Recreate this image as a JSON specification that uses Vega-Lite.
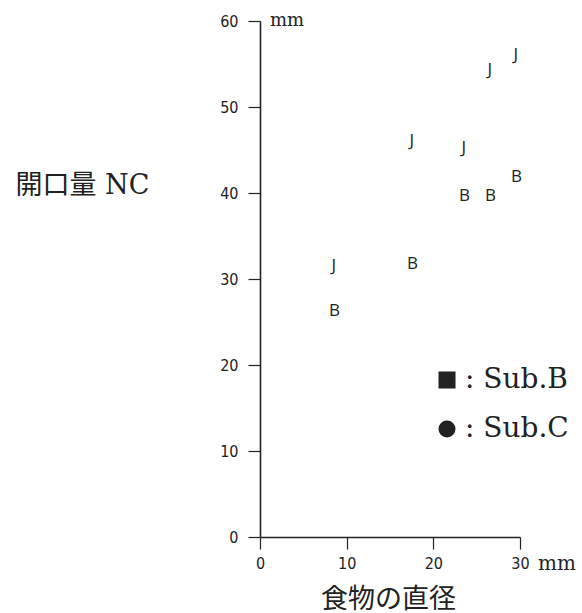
{
  "$schema": "https://vega.github.io/schema/vega-lite/v6.json",
  "width": 260,
  "height": 516,
  "autosize": "none",
  "padding": {"left": 260, "top": 21, "right": 62, "bottom": 76},
  "background": "white",
  "datasets": {
    "points": [
      {"diameter": 8.5, "opening": 31.5, "group": "Sub.C", "symbol": "J"},
      {"diameter": 17.5, "opening": 46.0, "group": "Sub.C", "symbol": "J"},
      {"diameter": 23.5, "opening": 45.2, "group": "Sub.C", "symbol": "J"},
      {"diameter": 26.5, "opening": 54.3, "group": "Sub.C", "symbol": "J"},
      {"diameter": 29.5, "opening": 56.0, "group": "Sub.C", "symbol": "J"},
      {"diameter": 8.6, "opening": 26.3, "group": "Sub.B", "symbol": "B"},
      {"diameter": 17.6, "opening": 31.8, "group": "Sub.B", "symbol": "B"},
      {"diameter": 23.6, "opening": 39.7, "group": "Sub.B", "symbol": "B"},
      {"diameter": 26.6, "opening": 39.7, "group": "Sub.B", "symbol": "B"},
      {"diameter": 29.6, "opening": 41.9, "group": "Sub.B", "symbol": "B"}
    ],
    "single": [{}]
  },
  "config": {
    "view": {"stroke": null},
    "axis": {
      "grid": false,
      "domainColor": "#222",
      "domainWidth": 1.6,
      "tickColor": "#222",
      "tickWidth": 1.2,
      "tickSize": 12,
      "labelFlush": false,
      "labelColor": "#222",
      "labelFont": "DejaVu Sans Condensed, Liberation Sans Narrow, sans-serif",
      "labelFontSize": 16,
      "titleColor": "#222",
      "titleFont": "DejaVu Serif, Noto Sans CJK JP",
      "titleFontWeight": "normal"
    }
  },
  "layer": [
    {
      "data": {"name": "points"},
      "mark": {"type": "text", "font": "Open Sans", "fontSize": 17, "color": "#222", "align": "center", "baseline": "middle"},
      "encoding": {
        "x": {
          "field": "diameter",
          "type": "quantitative",
          "scale": {"domain": [0, 30], "nice": false},
          "axis": {
            "values": [0, 10, 20, 30],
            "labelPadding": 6,
            "title": "食物の直径",
            "titleFontSize": 27,
            "titleX": 128,
            "titleY": 62,
            "titleAlign": "center",
            "titleBaseline": "middle"
          }
        },
        "y": {
          "field": "opening",
          "type": "quantitative",
          "scale": {"domain": [0, 60], "nice": false},
          "axis": {
            "values": [0, 10, 20, 30, 40, 50, 60],
            "labelPadding": 10,
            "title": "開口量 NC",
            "titleFontSize": 27,
            "titleAngle": 0,
            "titleX": -245,
            "titleY": 164,
            "titleAlign": "left",
            "titleBaseline": "middle"
          }
        },
        "text": {"field": "symbol"}
      }
    },
    {
      "data": {"name": "points"},
      "mark": {"type": "point", "filled": true, "opacity": 0, "color": "#222"},
      "encoding": {
        "x": {"field": "diameter", "type": "quantitative"},
        "y": {"field": "opening", "type": "quantitative"},
        "shape": {
          "field": "group",
          "type": "nominal",
          "scale": {"domain": ["Sub.B", "Sub.C"], "range": ["square", "circle"]},
          "legend": {
            "orient": "none",
            "legendX": 173,
            "legendY": 345,
            "padding": 0,
            "title": null,
            "symbolSize": 290,
            "symbolOpacity": 1,
            "symbolFillColor": "#222",
            "symbolStrokeColor": "#222",
            "symbolStrokeWidth": 0,
            "labelFont": "DejaVu Serif",
            "labelFontSize": 28,
            "labelColor": "#222",
            "labelOffset": 4,
            "labelExpr": "': ' + datum.label",
            "rowPadding": 21
          }
        }
      }
    },
    {
      "data": {"name": "single"},
      "mark": {"type": "text", "font": "DejaVu Serif", "fontSize": 18, "color": "#222", "align": "left", "baseline": "middle", "dx": 10},
      "encoding": {
        "x": {"datum": 0, "type": "quantitative"},
        "y": {"datum": 60, "type": "quantitative"},
        "text": {"value": "mm"}
      }
    },
    {
      "data": {"name": "single"},
      "mark": {"type": "text", "font": "DejaVu Serif", "fontSize": 20, "color": "#222", "align": "left", "baseline": "alphabetic", "dx": 18, "dy": 33},
      "encoding": {
        "x": {"datum": 30, "type": "quantitative"},
        "y": {"datum": 0, "type": "quantitative"},
        "text": {"value": "mm"}
      }
    }
  ]
}
